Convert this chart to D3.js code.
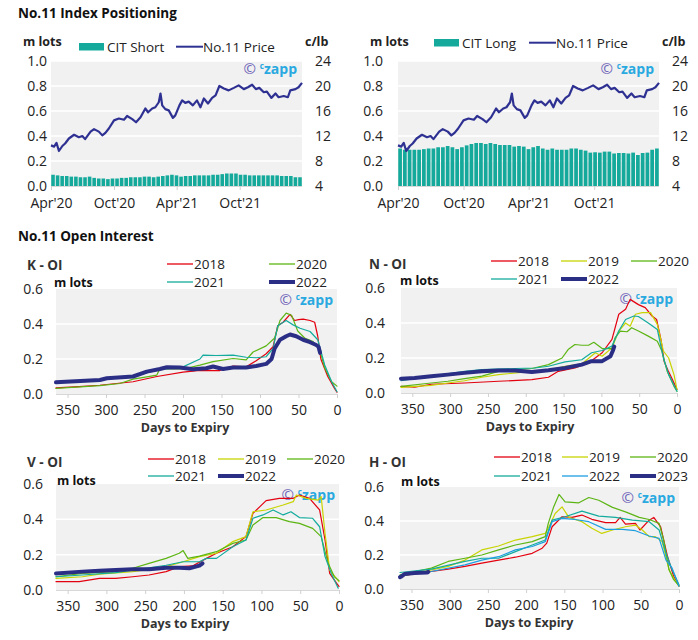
<!DOCTYPE html>
<html><head><meta charset="utf-8">
<script src="https://cdn.jsdelivr.net/npm/d3@7"></script>
<style>body{margin:0;background:#fff;} svg{display:block;font-family:'Open Sans',sans-serif;}</style>
</head><body><svg id="c" width="698" height="640"></svg>
<script>
// ---------- DATA ----------
const citShort = [0.09,0.085,0.08,0.08,0.075,0.075,0.07,0.07,0.075,0.065,0.06,0.06,0.055,0.06,0.06,0.065,0.065,0.07,0.07,0.07,0.075,0.075,0.07,0.075,0.08,0.085,0.09,0.085,0.075,0.08,0.08,0.085,0.085,0.085,0.085,0.09,0.09,0.095,0.1,0.1,0.1,0.09,0.09,0.085,0.085,0.085,0.085,0.085,0.085,0.085,0.08,0.08,0.08,0.07,0.07];
const citLong = [0.30,0.29,0.29,0.29,0.29,0.295,0.30,0.30,0.31,0.31,0.32,0.31,0.295,0.31,0.325,0.336,0.344,0.344,0.336,0.344,0.336,0.328,0.328,0.328,0.315,0.32,0.315,0.295,0.31,0.32,0.30,0.29,0.30,0.29,0.29,0.29,0.30,0.30,0.29,0.283,0.267,0.27,0.267,0.275,0.275,0.26,0.264,0.264,0.26,0.267,0.248,0.264,0.267,0.29,0.30];
const priceDates = ["2020-04-01","2020-04-10","2020-04-17","2020-04-24","2020-05-04","2020-05-12","2020-05-23","2020-06-07","2020-06-21","2020-07-01","2020-07-09","2020-07-25","2020-08-04","2020-08-18","2020-08-28","2020-09-06","2020-09-16","2020-10-01","2020-10-15","2020-10-30","2020-11-08","2020-11-23","2020-12-04","2020-12-17","2020-12-31","2021-01-08","2021-01-20","2021-01-29","2021-02-08","2021-02-13","2021-02-18","2021-02-27","2021-03-09","2021-03-21","2021-03-28","2021-04-09","2021-04-17","2021-04-26","2021-05-06","2021-05-18","2021-05-30","2021-06-09","2021-06-19","2021-07-01","2021-07-13","2021-07-23","2021-08-03","2021-08-16","2021-08-30","2021-09-14","2021-09-28","2021-10-13","2021-10-25","2021-11-06","2021-11-17","2021-11-27","2021-12-10","2021-12-19","2022-01-01","2022-01-13","2022-01-22","2022-02-06","2022-02-18","2022-02-25","2022-03-12","2022-03-21","2022-03-31"];
const priceValues = [10.5,10.3,10.9,9.6,10.4,10.8,11.6,12.2,11.8,12.0,11.5,12.7,13.1,12.7,12.1,12.5,13.2,14.5,14.8,14.6,15.2,14.7,14.2,15.0,16.4,15.8,16.4,16.6,17.4,18.8,16.9,16.3,16.1,14.9,15.3,16.9,17.7,17.3,17.5,16.9,17.7,16.6,18.0,17.2,18.1,18.5,20.0,19.6,19.3,19.7,20.1,19.5,19.8,20.2,19.5,19.7,19.0,19.1,18.1,18.8,18.2,18.4,18.2,19.3,19.5,19.8,20.5];
const timeTicks = ["2020-04-01","2020-10-01","2021-04-01","2021-10-01"];
const timeTickLabels = ["Apr'20","Oct'20","Apr'21","Oct'21"];
const leftTicks = [0,0.2,0.4,0.6,0.8,1.0];
const rightTicks = [4,8,12,16,20,24];
const oiTicks = [0,0.2,0.4,0.6];
const dayTicks = [350,300,250,200,150,100,50,0];

const kOI2018 = [[365,0.035],[335,0.042],[308,0.05],[265,0.07],[234,0.10],[200,0.125],[178,0.135],[152,0.134],[135,0.16],[118,0.155],[105,0.19],[92,0.23],[83,0.27],[77,0.39],[70,0.41],[61,0.455],[55,0.42],[50,0.425],[44,0.428],[35,0.42],[29,0.41],[25,0.33],[21,0.2],[12,0.1],[3,0.03],[0,0.01]];
const kOI2020 = [[365,0.032],[308,0.048],[282,0.06],[265,0.085],[247,0.098],[234,0.108],[230,0.145],[200,0.143],[178,0.165],[161,0.185],[135,0.203],[118,0.195],[109,0.24],[92,0.275],[81,0.32],[74,0.42],[66,0.462],[59,0.45],[51,0.36],[42,0.32],[31,0.30],[22,0.245],[16,0.15],[7,0.07],[0,0.045]];
const kOI2021 = [[365,0.065],[300,0.085],[265,0.1],[230,0.14],[200,0.155],[178,0.2],[174,0.222],[157,0.22],[135,0.222],[118,0.21],[105,0.207],[92,0.213],[83,0.26],[77,0.39],[66,0.42],[57,0.395],[48,0.376],[35,0.357],[25,0.31],[16,0.166],[7,0.07],[0,0.013]];
const kOI2022 = [[365,0.067],[308,0.08],[299,0.09],[265,0.10],[247,0.128],[230,0.143],[221,0.153],[204,0.151],[187,0.141],[170,0.147],[161,0.157],[148,0.143],[135,0.151],[118,0.151],[105,0.16],[92,0.172],[85,0.2],[81,0.26],[74,0.31],[66,0.33],[61,0.34],[53,0.33],[44,0.31],[35,0.296],[27,0.28],[24,0.27],[22,0.235]];

const nOI2018 = [[365,0.038],[347,0.033],[325,0.05],[281,0.057],[236,0.067],[192,0.076],[170,0.09],[157,0.124],[135,0.143],[117,0.172],[99,0.23],[86,0.306],[77,0.45],[68,0.478],[62,0.535],[51,0.505],[42,0.488],[33,0.44],[27,0.42],[21,0.3],[17,0.18],[12,0.13],[7,0.086],[0,0.02]];
const nOI2019 = [[365,0.032],[325,0.044],[303,0.057],[281,0.07],[258,0.09],[236,0.105],[192,0.124],[170,0.13],[148,0.153],[126,0.166],[108,0.23],[99,0.21],[86,0.258],[77,0.354],[68,0.40],[62,0.382],[55,0.45],[46,0.459],[35,0.459],[26,0.392],[18,0.24],[11,0.2],[4,0.105],[0,0.02]];
const nOI2020 = [[365,0.038],[325,0.057],[303,0.067],[281,0.082],[258,0.096],[236,0.124],[214,0.134],[192,0.14],[170,0.162],[152,0.2],[144,0.248],[135,0.277],[126,0.273],[117,0.273],[110,0.29],[99,0.254],[86,0.254],[82,0.315],[75,0.354],[66,0.35],[60,0.373],[51,0.354],[38,0.325],[26,0.296],[20,0.24],[13,0.124],[4,0.038],[0,0.01]];
const nOI2021 = [[365,0.07],[325,0.096],[281,0.124],[258,0.134],[214,0.14],[188,0.143],[170,0.153],[148,0.178],[126,0.19],[113,0.23],[99,0.243],[86,0.268],[77,0.354],[68,0.42],[57,0.44],[51,0.437],[38,0.40],[26,0.363],[18,0.20],[11,0.105],[0,0.01]];
const nOI2022 = [[365,0.082],[347,0.086],[325,0.096],[303,0.105],[281,0.115],[258,0.124],[236,0.128],[214,0.128],[192,0.12],[170,0.13],[148,0.143],[126,0.162],[113,0.182],[99,0.182],[88,0.21],[85,0.24],[83,0.265]];

const vOI2018 = [[365,0.047],[335,0.047],[309,0.066],[288,0.066],[266,0.075],[245,0.085],[223,0.104],[206,0.132],[189,0.136],[171,0.179],[158,0.208],[137,0.245],[120,0.302],[111,0.434],[102,0.472],[94,0.506],[77,0.519],[59,0.519],[51,0.538],[38,0.519],[25,0.453],[18,0.283],[12,0.094],[3,0.038],[0,0.02]];
const vOI2019 = [[365,0.066],[331,0.075],[309,0.09],[266,0.104],[245,0.117],[223,0.132],[201,0.16],[180,0.189],[158,0.208],[137,0.274],[120,0.302],[111,0.443],[94,0.453],[72,0.481],[59,0.50],[55,0.538],[42,0.519],[27,0.509],[23,0.528],[18,0.32],[12,0.113],[0,0.047]];
const vOI2020 = [[365,0.075],[331,0.094],[288,0.104],[266,0.123],[245,0.151],[223,0.179],[206,0.208],[201,0.223],[195,0.179],[180,0.192],[158,0.217],[137,0.264],[120,0.283],[111,0.368],[98,0.41],[81,0.41],[64,0.387],[51,0.377],[34,0.349],[23,0.302],[14,0.151],[6,0.075],[0,0.053]];
const vOI2021 = [[365,0.075],[331,0.085],[288,0.098],[245,0.126],[223,0.14],[201,0.16],[180,0.16],[171,0.179],[158,0.179],[137,0.245],[120,0.283],[111,0.406],[98,0.425],[85,0.453],[72,0.425],[62,0.443],[51,0.41],[34,0.406],[25,0.358],[18,0.189],[10,0.094],[1,0.01]];
const vOI2022 = [[365,0.094],[331,0.104],[309,0.109],[288,0.113],[266,0.117],[245,0.117],[223,0.126],[206,0.126],[193,0.123],[180,0.138],[176,0.151]];

const hOI2018 = [[365,0.074],[346,0.09],[324,0.103],[302,0.117],[280,0.133],[258,0.152],[236,0.17],[214,0.187],[192,0.21],[179,0.24],[173,0.27],[166,0.366],[153,0.425],[140,0.421],[127,0.435],[114,0.41],[96,0.39],[83,0.39],[77,0.421],[70,0.382],[57,0.386],[51,0.347],[39,0.405],[33,0.421],[24,0.366],[15,0.191],[7,0.074],[0,0.016]];
const hOI2019 = [[365,0.074],[324,0.113],[302,0.133],[280,0.17],[258,0.23],[236,0.253],[214,0.288],[192,0.308],[175,0.327],[171,0.357],[162,0.444],[153,0.483],[144,0.421],[127,0.396],[114,0.357],[101,0.327],[87,0.347],[70,0.366],[57,0.376],[48,0.347],[39,0.308],[31,0.308],[22,0.279],[13,0.113],[7,0.064],[0,0.016]];
const hOI2020 = [[365,0.084],[324,0.123],[302,0.162],[280,0.181],[258,0.2],[236,0.23],[214,0.259],[192,0.279],[175,0.308],[171,0.386],[164,0.483],[157,0.556],[149,0.513],[131,0.507],[118,0.538],[105,0.522],[87,0.48],[70,0.454],[52,0.421],[39,0.409],[26,0.386],[20,0.288],[13,0.113],[7,0.055],[0,0.02]];
const hOI2021 = [[365,0.097],[324,0.117],[280,0.162],[258,0.181],[236,0.181],[214,0.22],[192,0.259],[175,0.288],[166,0.405],[149,0.425],[127,0.458],[105,0.429],[83,0.421],[61,0.405],[39,0.396],[26,0.347],[17,0.21],[9,0.113],[0,0.025]];
const hOI2022 = [[365,0.078],[324,0.103],[280,0.142],[258,0.17],[236,0.19],[214,0.23],[192,0.25],[175,0.279],[166,0.396],[153,0.415],[136,0.409],[118,0.396],[96,0.351],[74,0.351],[57,0.343],[39,0.312],[26,0.298],[17,0.17],[9,0.123],[0,0.016]];
const hOI2023 = [[365,0.07],[363,0.074],[359,0.088],[346,0.094],[330,0.097],[328,0.10]];

// ---------- STYLE ----------
const C = {red:"#e3000f", yel:"#c8d400", grn:"#5cb514", teal:"#13ab9d", blue:"#1c9ee0", navy:"#2b2e85", bar:"#14a99a", price:"#2e3192", bg:"#f1f1f1", txt:"#222"};
const svg = d3.select("#c");

function txt(x,y,s,o={}){
  const t = svg.append("text").attr("x",x).attr("y",y).text(s)
    .attr("font-size",o.size||13).attr("fill",o.fill||C.txt)
    .attr("font-weight",o.bold?"700":"400");
  if(o.anchor) t.attr("text-anchor",o.anchor);
  return t;
}
function logo(xr,yb){
  const t = svg.append("text").attr("x",xr).attr("y",yb).attr("text-anchor","end");
  t.append("tspan").text("©").attr("fill","#6d64b8").attr("font-size",15);
  t.append("tspan").text("c").attr("fill","#29a9e0").attr("font-size",8).attr("dx",4).attr("dy",-5).attr("font-weight","700");
  t.append("tspan").text("zapp").attr("fill","#29a9e0").attr("font-size",14).attr("font-weight","700").attr("dy",5);
}

// ---------- TOP PANELS ----------
function topPanel(p){
  const x = d3.scaleTime().domain([new Date("2020-04-01"), new Date("2022-03-31")]).range([p.x0,p.x1]);
  const yL = d3.scaleLinear().domain([0,1]).range([p.y1,p.y0]);
  const yR = d3.scaleLinear().domain([4,24]).range([p.y1,p.y0]);
  const xb = d3.scaleBand().domain(d3.range(p.bars.length)).range([p.x0,p.x1]).paddingInner(0.22).paddingOuter(0.05);
  svg.append("rect").attr("x",p.x0).attr("y",p.y0).attr("width",p.x1-p.x0).attr("height",p.y1-p.y0).attr("fill",C.bg);
  svg.append("g").selectAll("line").data(leftTicks.filter(d=>d>0)).join("line")
    .attr("x1",p.x0).attr("x2",p.x1).attr("y1",d=>yL(d)).attr("y2",d=>yL(d)).attr("stroke","#fff").attr("stroke-width",1.5);
  svg.append("g").selectAll("rect").data(p.bars).join("rect")
    .attr("x",(d,i)=>xb(i)).attr("width",xb.bandwidth()).attr("y",d=>yL(d)).attr("height",d=>yL(0)-yL(d)).attr("fill",C.bar);
  const line = d3.line().x((d,i)=>x(new Date(priceDates[i]))).y(d=>yR(d));
  svg.append("path").datum(priceValues).attr("d",line).attr("fill","none").attr("stroke",C.price).attr("stroke-width",2.2).attr("stroke-linejoin","round");
  // axis
  svg.append("line").attr("x1",p.x0).attr("x2",p.x1).attr("y1",p.y1+0.5).attr("y2",p.y1+0.5).attr("stroke","#d8d8d8");
  const ax = svg.append("g").attr("transform",`translate(0,${p.y1})`)
    .call(d3.axisBottom(x).tickValues(timeTicks.map(d=>new Date(d))).tickFormat((d,i)=>timeTickLabels[i]).tickSize(4).tickPadding(8));
  ax.select(".domain").remove();
  ax.selectAll(".tick line").attr("stroke","#d0d0d0");
  ax.selectAll("text").attr("font-size",14).attr("fill",C.txt).attr("font-family","'Open Sans',sans-serif");
  const al = svg.append("g").attr("transform",`translate(${p.x0},0)`)
    .call(d3.axisLeft(yL).tickValues(leftTicks).tickFormat(d3.format(".1f")).tickSize(0).tickPadding(p.lpad));
  al.select(".domain").remove();
  al.selectAll("text").attr("font-size",14).attr("fill",C.txt).attr("font-family","'Open Sans',sans-serif");
  const ar = svg.append("g").attr("transform",`translate(${p.x1},0)`)
    .call(d3.axisRight(yR).tickValues(rightTicks).tickSize(0).tickPadding(13));
  ar.select(".domain").remove();
  ar.selectAll("text").attr("font-size",14).attr("fill",C.txt).attr("font-family","'Open Sans',sans-serif");
  // legend
  txt(p.mx,45.5,"m lots",{bold:true,size:12.5});
  svg.append("rect").attr("x",p.rx).attr("y",p.ly-3.7).attr("width",25).attr("height",7.5).attr("fill",C.bar);
  txt(p.rx+28,p.ly+4.8,p.name,{size:13.5});
  svg.append("line").attr("x1",p.lx).attr("x2",p.lx+27).attr("y1",p.ly).attr("y2",p.ly).attr("stroke",C.price).attr("stroke-width",2);
  txt(p.lx+27,p.ly+4.8,"No.11 Price",{size:13.5});
  txt(p.cx,45.5,"c/lb",{bold:true,size:12.5});
  logo(p.x1-5,p.y0+13);
}
txt(18,18,"No.11 Index Positioning",{bold:true,size:13.5,fill:"#111"});
topPanel({x0:51,x1:302,y0:61,y1:186,bars:citShort,name:"CIT Short",mx:23,rx:79,lx:176,ly:46.7,cx:305,lpad:4});
topPanel({x0:398,x1:659,y0:61,y1:186,bars:citLong,name:"CIT Long",mx:370,rx:434,lx:529,ly:42.7,cx:662,lpad:15});

// ---------- OI PANELS ----------
txt(18,240.5,"No.11 Open Interest",{bold:true,size:13.5,fill:"#111"});
function oiPanel(p){
  const x = d3.scaleLinear().domain([365,0]).range([p.x0,p.x1]);
  const y = d3.scaleLinear().domain([0,0.6]).range([p.y1,p.y0]);
  svg.append("rect").attr("x",p.x0).attr("y",p.y0).attr("width",p.x1-p.x0).attr("height",p.y1-p.y0).attr("fill",C.bg);
  svg.append("g").selectAll("line").data([0.2,0.4]).join("line")
    .attr("x1",p.x0).attr("x2",p.x1).attr("y1",d=>y(d)).attr("y2",d=>y(d)).attr("stroke","#fff").attr("stroke-width",1.5);
  logo(p.x1-4,p.y0+16);
  const line = d3.line().x(d=>x(d[0])).y(d=>y(d[1]));
  p.series.forEach(s=>{
    svg.append("path").datum(s.data).attr("d",line).attr("fill","none").attr("stroke",s.color)
      .attr("stroke-width",s.w).attr("stroke-linejoin","round").attr("stroke-linecap","round");
  });
  svg.append("line").attr("x1",p.x0).attr("x2",p.x1).attr("y1",p.y1+0.5).attr("y2",p.y1+0.5).attr("stroke","#d8d8d8");
  const ax = svg.append("g").attr("transform",`translate(0,${p.y1})`)
    .call(d3.axisBottom(x).tickValues(dayTicks).tickSize(4).tickPadding(7));
  ax.select(".domain").remove();
  ax.selectAll(".tick line").attr("stroke","#d0d0d0");
  ax.selectAll("text").attr("font-size",14).attr("fill",C.txt).attr("font-family","'Open Sans',sans-serif");
  const al = svg.append("g").attr("transform",`translate(${p.x0},0)`)
    .call(d3.axisLeft(y).tickValues(oiTicks).tickFormat(d3.format(".1f")).tickSize(0).tickPadding(p.lpad));
  al.select(".domain").remove();
  al.selectAll("text").attr("font-size",14).attr("fill",C.txt).attr("font-family","'Open Sans',sans-serif");
  txt(p.x0+129,p.y1+37.5,"Days to Expiry",{bold:true,size:12.5,anchor:"middle",fill:"#333"});
  txt(p.tx,p.ty,p.title,{bold:true,size:13.5,fill:"#333"});
  txt(p.mx,p.my,"m lots",{bold:true,size:12.5,fill:"#111"});
  p.legend.forEach(l=>{
    const s = p.series[l.i];
    svg.append("line").attr("x1",l.x).attr("x2",l.x+26).attr("y1",l.y).attr("y2",l.y).attr("stroke",s.color).attr("stroke-width",s.w>2?4:1.3);
    txt(l.x+27,l.y+4.8,s.name,{size:13.5});
  });
}
oiPanel({x0:56,x1:337,y0:289,y1:394,lpad:13,tx:27,ty:270,mx:54,my:287,title:"K - OI",
  series:[{name:"2018",data:kOI2018,color:C.red,w:1.2},{name:"2020",data:kOI2020,color:C.grn,w:1.2},{name:"2021",data:kOI2021,color:C.teal,w:1.2},{name:"2022",data:kOI2022,color:C.navy,w:4}],
  legend:[{i:0,x:167,y:264},{i:1,x:269,y:264},{i:2,x:167,y:282},{i:3,x:269,y:282}]});
oiPanel({x0:401,x1:677,y0:288,y1:393,lpad:16,tx:369,ty:269,mx:400,my:285,title:"N - OI",
  series:[{name:"2018",data:nOI2018,color:C.red,w:1.2},{name:"2019",data:nOI2019,color:C.yel,w:1.2},{name:"2020",data:nOI2020,color:C.grn,w:1.2},{name:"2021",data:nOI2021,color:C.teal,w:1.2},{name:"2022",data:nOI2022,color:C.navy,w:4}],
  legend:[{i:0,x:491,y:261},{i:1,x:561,y:261},{i:2,x:631,y:261},{i:3,x:491,y:279},{i:4,x:561,y:279}]});
oiPanel({x0:56,x1:339,y0:484,y1:590,lpad:13,tx:27,ty:466.5,mx:57,my:484.5,title:"V - OI",
  series:[{name:"2018",data:vOI2018,color:C.red,w:1.2},{name:"2019",data:vOI2019,color:C.yel,w:1.2},{name:"2020",data:vOI2020,color:C.grn,w:1.2},{name:"2021",data:vOI2021,color:C.teal,w:1.2},{name:"2022",data:vOI2022,color:C.navy,w:4}],
  legend:[{i:0,x:148,y:459},{i:1,x:218,y:459},{i:2,x:287,y:459},{i:3,x:148,y:476},{i:4,x:218,y:476}]});
oiPanel({x0:400,x1:679,y0:487,y1:589,lpad:16,tx:369,ty:466.5,mx:401,my:486,title:"H - OI",
  series:[{name:"2018",data:hOI2018,color:C.red,w:1.2},{name:"2019",data:hOI2019,color:C.yel,w:1.2},{name:"2020",data:hOI2020,color:C.grn,w:1.2},{name:"2021",data:hOI2021,color:C.teal,w:1.2},{name:"2022",data:hOI2022,color:C.blue,w:1.2},{name:"2023",data:hOI2023,color:C.navy,w:4}],
  legend:[{i:0,x:494,y:457},{i:1,x:562,y:457},{i:2,x:630,y:457},{i:3,x:494,y:476},{i:4,x:562,y:476},{i:5,x:630,y:476}]});
</script></body></html>
